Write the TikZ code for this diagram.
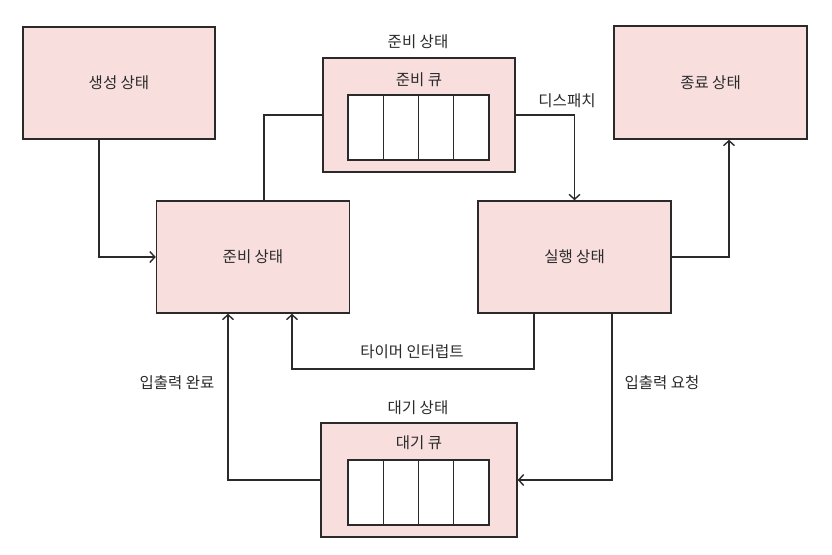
\documentclass[tikz,border=0pt]{standalone}
\usepackage{fontspec}
\setmainfont{Noto Sans CJK KR}
\usetikzlibrary{arrows.meta,calc}
\definecolor{boxfill}{HTML}{F8DFDE}
\definecolor{ink}{HTML}{2A2A2A}
\tikzset{
  statebox/.style={draw=ink, line width=1.5pt, fill=boxfill, rectangle, inner sep=0pt},
  lbl/.style={text=ink, font=\fontsize{15.5}{18}\selectfont, inner sep=1pt},
  conn/.style={draw=ink, line width=1.4pt},
  arr/.style={conn, -{Straight Barb[length=5pt,width=11pt,line width=1.4pt]}},
  cell/.style={draw=ink, line width=1.2pt, fill=white, rectangle, minimum width=35.25pt, minimum height=65pt, inner sep=0pt}
}
\begin{document}
\begin{tikzpicture}[x=1pt,y=-1pt]
\useasboundingbox (0,0) rectangle (832,554);
\fill[white] (0,0) rectangle (832,554);
% boxes
\node[statebox, minimum width=192pt, minimum height=112pt] (gen) at (119,83) {};
\node[lbl] (gent) at (119,83) {생성 상태};
\node[statebox, minimum width=192pt, minimum height=114pt] (rq) at (419,115) {};
\node[statebox, minimum width=193pt, minimum height=113pt] (term) at (710.5,82.5) {};
\node[lbl] (termt) at (710.5,82.5) {종료 상태};
\node[statebox, minimum width=193pt, minimum height=112pt] (ready) at (253,257) {};
\node[lbl] (readyt) at (253,257) {준비 상태};
\node[statebox, minimum width=193pt, minimum height=112pt] (run) at (574.5,257) {};
\node[lbl] (runt) at (574.5,257) {실행 상태};
\node[statebox, minimum width=196pt, minimum height=114pt] (wq) at (419,480) {};
% queues
\foreach \i in {0,1,2,3} {
  \node[cell] (rqc\i) at (365.6+35.25*\i,127.5) {};
  \node[cell] (wqc\i) at (365.6+35.25*\i,492.5) {};
}
% labels
\node[lbl] (rqlabel) at (418,42) {준비 상태};
\node[lbl] (rqname) at (419,80) {준비 큐};
\node[lbl] (wqlabel) at (418,408) {대기 상태};
\node[lbl] (wqname) at (419,443) {대기 큐};
\node[lbl] (dispatch) at (567,101) {디스패치};
\node[lbl] (timer) at (412,352) {타이머 인터럽트};
\node[lbl] (iodone) at (177,383) {입출력 완료};
\node[lbl] (ioreq) at (662,383) {입출력 요청};
% helper coordinates
\coordinate (gx) at (99,0);
\coordinate (rx) at (264,0);
\coordinate (tx) at (729,0);
\coordinate (ta) at (534,369);
\coordinate (tb) at (292,369);
\coordinate (ix) at (612,0);
\coordinate (wx) at (228,0);
% connectors
\draw[arr] (gen.south -| gx) |- (ready.west);
\draw[conn] (ready.north -| rx) |- (rq.west);
\draw[arr] (rq.east) -| (run.north);
\draw[arr] (run.east) -| (term.south -| tx);
\draw[arr] (run.south -| ta) -- (ta) -- (tb) -- (ready.south -| tb);
\draw[arr] (run.south -| ix) |- (wq.east);
\draw[arr] (wq.west) -| (ready.south -| wx);
\end{tikzpicture}
\end{document}
